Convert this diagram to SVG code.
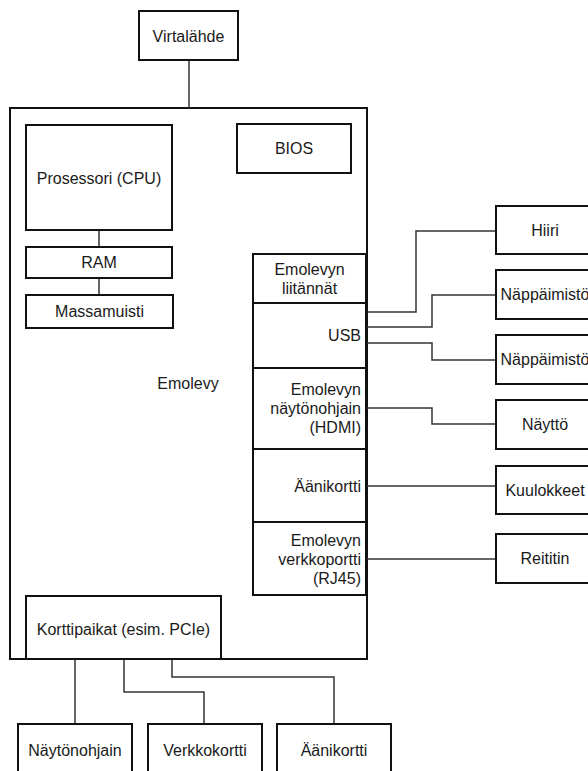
<svg xmlns="http://www.w3.org/2000/svg" width="588" height="771" viewBox="0 0 588 771">
  <style>
    .box { fill: #fff; stroke: #111; stroke-width: 2; }
    .wire { fill: none; stroke: #333; stroke-width: 1.5; }
    text { font-family: "Liberation Sans", Arial, Helvetica, sans-serif; font-size: 16px; fill: #1a1a1a; }
    .c { text-anchor: middle; }
    .r { text-anchor: end; }
  </style>
  <rect width="588" height="771" fill="#fff"/>

  <!-- motherboard container -->
  <g id="emolevy">
    <rect class="box" x="10" y="108" width="357" height="551"/>
    <text class="c" x="188" y="389">Emolevy</text>
  </g>

  <!-- connectors -->
  <g id="connectors">
    <path class="wire" d="M189,60 V108"/>
    <path class="wire" d="M99,230 V247"/>
    <path class="wire" d="M99,278 V295"/>
    <path class="wire" d="M366,312 H416 V231 H496"/>
    <path class="wire" d="M366,327 H432 V295 H496"/>
    <path class="wire" d="M366,343 H432 V360 H496"/>
    <path class="wire" d="M366,408 H432 V424 H496"/>
    <path class="wire" d="M366,486 H496"/>
    <path class="wire" d="M366,559 H496"/>
    <path class="wire" d="M75,659 V724"/>
    <path class="wire" d="M124,659 V692 H204 V724"/>
    <path class="wire" d="M172,659 V677 H334 V724"/>
  </g>

  <g id="virtalahde">
    <rect class="box" x="139" y="11" width="99" height="49"/>
    <text class="c" x="188.5" y="41.5">Virtalähde</text>
  </g>
  <g id="prosessori">
    <rect class="box" x="26" y="125" width="146" height="105"/>
    <text class="c" x="99" y="183.5">Prosessori (CPU)</text>
  </g>
  <g id="ram">
    <rect class="box" x="26" y="247" width="146" height="31"/>
    <text class="c" x="99" y="268">RAM</text>
  </g>
  <g id="massamuisti">
    <rect class="box" x="26" y="295" width="147" height="33"/>
    <text class="c" x="99.5" y="317">Massamuisti</text>
  </g>
  <g id="bios">
    <rect class="box" x="237" y="124" width="114" height="49"/>
    <text class="c" x="294" y="154">BIOS</text>
  </g>

  <!-- interface column -->
  <g id="liitannat">
    <rect class="box" x="253" y="254" width="113" height="49"/>
    <text class="c" x="309.5" y="275">Emolevyn</text>
    <text class="c" x="309.5" y="294">liitännät</text>
  </g>
  <g id="usb">
    <rect class="box" x="253" y="303" width="113" height="65"/>
    <text class="r" x="361" y="341">USB</text>
  </g>
  <g id="hdmi">
    <rect class="box" x="253" y="368" width="113" height="81"/>
    <text class="r" x="361" y="395">Emolevyn</text>
    <text class="r" x="361" y="414">näytönohjain</text>
    <text class="r" x="361" y="433">(HDMI)</text>
  </g>
  <g id="aanikortti-emo">
    <rect class="box" x="253" y="449" width="113" height="73"/>
    <text class="r" x="361" y="492">Äänikortti</text>
  </g>
  <g id="verkkoportti">
    <rect class="box" x="253" y="522" width="113" height="73"/>
    <text class="r" x="361" y="546">Emolevyn</text>
    <text class="r" x="361" y="565">verkkoportti</text>
    <text class="r" x="361" y="584">(RJ45)</text>
  </g>

  <g id="korttipaikat">
    <rect class="box" x="26" y="596" width="195" height="63"/>
    <text class="c" x="123.5" y="635">Korttipaikat (esim. PCIe)</text>
  </g>

  <!-- peripherals -->
  <g id="hiiri">
    <rect class="box" x="496" y="206" width="98" height="48"/>
    <text class="c" x="545" y="235.5">Hiiri</text>
  </g>
  <g id="nappaimisto1">
    <rect class="box" x="496" y="270" width="98" height="49"/>
    <text class="c" x="545" y="300">Näppäimistö</text>
  </g>
  <g id="nappaimisto2">
    <rect class="box" x="496" y="335" width="98" height="49"/>
    <text class="c" x="545" y="365">Näppäimistö</text>
  </g>
  <g id="naytto">
    <rect class="box" x="496" y="400" width="98" height="49"/>
    <text class="c" x="545" y="430">Näyttö</text>
  </g>
  <g id="kuulokkeet">
    <rect class="box" x="496" y="466" width="98" height="48"/>
    <text class="c" x="545" y="495.5">Kuulokkeet</text>
  </g>
  <g id="reititin">
    <rect class="box" x="496" y="534" width="98" height="49"/>
    <text class="c" x="545" y="564">Reititin</text>
  </g>

  <!-- expansion cards -->
  <g id="naytonohjain">
    <rect class="box" x="18" y="724" width="114" height="52"/>
    <text class="c" x="75" y="756">Näytönohjain</text>
  </g>
  <g id="verkkokortti">
    <rect class="box" x="148" y="724" width="114" height="52"/>
    <text class="c" x="205" y="756">Verkkokortti</text>
  </g>
  <g id="aanikortti">
    <rect class="box" x="277" y="724" width="114" height="52"/>
    <text class="c" x="334" y="756">Äänikortti</text>
  </g>
</svg>
